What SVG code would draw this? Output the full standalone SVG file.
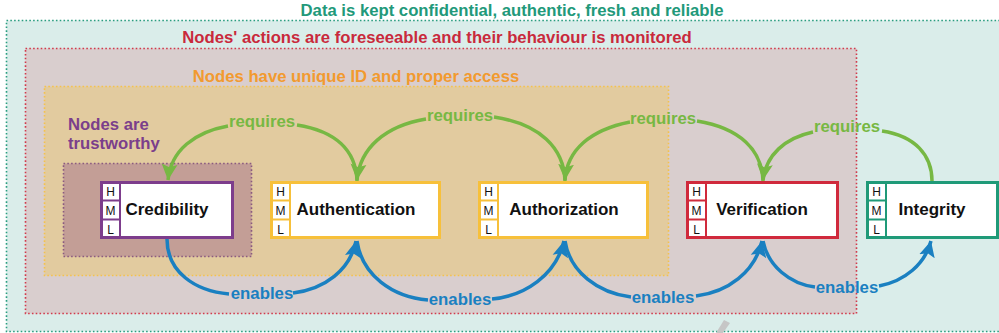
<svg xmlns="http://www.w3.org/2000/svg" width="999" height="333" viewBox="0 0 999 333">
<style>
text{font-family:"Liberation Sans",Arial,sans-serif;font-weight:bold}
.hml{font-weight:normal;font-size:12px;fill:#111;text-anchor:middle}
.nt{font-size:17px;fill:#111;text-anchor:middle}
.box{fill:#fff;stroke-width:3}
.cell{stroke-width:2;fill:none}
.req{fill:none;stroke:#77b843;stroke-width:3.5}
.ena{fill:none;stroke:#1a80c1;stroke-width:3.5}
.rl{font-size:16.8px;fill:#77b843;text-anchor:middle}
.el{font-size:16.8px;fill:#1a80c1;text-anchor:middle}
.reg{stroke-width:1.6;stroke-dasharray:1.6 2.2}
.h{font-size:16.7px}
</style>
<defs>
<marker id="ag" markerUnits="userSpaceOnUse" markerWidth="18" markerHeight="18" refX="15" refY="7.5" orient="auto" viewBox="0 0 17 15">
<path d="M0,0 L15,7.5 L0,15 L3,7.5 z" fill="#77b843"/>
</marker>
<marker id="ab" markerUnits="userSpaceOnUse" markerWidth="18" markerHeight="18" refX="15" refY="7.5" orient="auto" viewBox="0 0 17 15">
<path d="M0,0 L15,7.5 L0,15 L3,7.5 z" fill="#1a80c1"/>
</marker>
</defs>
<rect width="999" height="333" fill="#fff"/>
<g id="regions">
<rect class="reg" x="6.5" y="20.5" width="1000" height="311" fill="#daedea" stroke="#2a9d80"/>
<rect class="reg" x="25.5" y="48.5" width="831" height="265" fill="#d9cece" stroke="#d13b4c"/>
<rect class="reg" x="44.5" y="86.5" width="624" height="189" fill="#e2cb9f" stroke="#f5c24c"/>
<rect class="reg" x="63.5" y="163.5" width="188" height="93" fill="#c39e96" stroke="#8a5a80"/>
<polygon points="716,333 724,320 730,323 723,333" fill="#c6c6c6"/>
<text class="h" x="512" y="16" text-anchor="middle" fill="#22997a">Data is kept confidential, authentic, fresh and reliable</text>
<text class="h" x="437" y="43" text-anchor="middle" fill="#c92a3c">Nodes' actions are foreseeable and their behaviour is monitored</text>
<text class="h" x="356" y="82" text-anchor="middle" fill="#f29a2f">Nodes have unique ID and proper access</text>
<text class="h" x="68" y="130" fill="#7b3e8b">Nodes are</text>
<text class="h" x="68" y="149" fill="#7b3e8b">trustworthy</text>
</g>
<g id="connectors">
<path class="req" d="M357,181 C356,150 335,131 297,125"/>
<path class="req" d="M228,126 C195,132 171,150 168,180" marker-end="url(#ag)"/>
<text class="rl" x="262" y="127">requires</text>
<path class="req" d="M565,181 C564,148 540,124 494,117"/>
<path class="req" d="M426,119 C385,126 360,148 357,180" marker-end="url(#ag)"/>
<text class="rl" x="460" y="121">requires</text>
<path class="req" d="M763,181 C762,150 740,128 697,121"/>
<path class="req" d="M630,122 C590,130 567,150 565,180" marker-end="url(#ag)"/>
<text class="rl" x="663" y="124">requires</text>
<path class="req" d="M932,181 C932,155 915,136 882,131"/>
<path class="req" d="M813,132 C785,138 766,155 763,180" marker-end="url(#ag)"/>
<text class="rl" x="847" y="132">requires</text>
<path class="ena" d="M167,239 C167,272 195,291 229,294"/>
<path class="ena" d="M293,293 C325,289 350,270 356,241" marker-end="url(#ab)"/>
<text class="el" x="262" y="299">enables</text>
<path class="ena" d="M357,241 C362,275 392,297 428,300"/>
<path class="ena" d="M492,299 C525,296 556,275 564,241" marker-end="url(#ab)"/>
<text class="el" x="460" y="305">enables</text>
<path class="ena" d="M565,241 C570,272 598,293 631,297"/>
<path class="ena" d="M696,296 C728,292 755,272 762,241" marker-end="url(#ab)"/>
<text class="el" x="663" y="303">enables</text>
<path class="ena" d="M763,241 C768,266 790,284 815,287"/>
<path class="ena" d="M879,286 C905,281 925,264 931,241" marker-end="url(#ab)"/>
<text class="el" x="847" y="293">enables</text>
</g>
<g id="credibility" stroke="#7d3d8c">
<rect class="box" x="101.5" y="182.5" width="131" height="55"/>
<path class="cell" d="M120,182 V238 M101,200.5 H120 M101,219.5 H120"/>
<g stroke="none"><text class="hml" x="110.5" y="196">H</text><text class="hml" x="110.5" y="215">M</text><text class="hml" x="110.5" y="234">L</text>
<text class="nt" x="167" y="215">Credibility</text></g>
</g>
<g id="authentication" stroke="#f7c03a">
<rect class="box" x="271.5" y="182.5" width="168" height="55"/>
<path class="cell" d="M290,182 V238 M271,200.5 H290 M271,219.5 H290"/>
<g stroke="none"><text class="hml" x="280.5" y="196">H</text><text class="hml" x="280.5" y="215">M</text><text class="hml" x="280.5" y="234">L</text>
<text class="nt" x="356" y="215">Authentication</text></g>
</g>
<g id="authorization" stroke="#f7c03a">
<rect class="box" x="479.5" y="182.5" width="168" height="55"/>
<path class="cell" d="M498,182 V238 M479,200.5 H498 M479,219.5 H498"/>
<g stroke="none"><text class="hml" x="488.5" y="196">H</text><text class="hml" x="488.5" y="215">M</text><text class="hml" x="488.5" y="234">L</text>
<text class="nt" x="564" y="215">Authorization</text></g>
</g>
<g id="verification" stroke="#d02a3c">
<rect class="box" x="687.5" y="182.5" width="150" height="55"/>
<path class="cell" d="M706,182 V238 M687,200.5 H706 M687,219.5 H706"/>
<g stroke="none"><text class="hml" x="696.5" y="196">H</text><text class="hml" x="696.5" y="215">M</text><text class="hml" x="696.5" y="234">L</text>
<text class="nt" x="762" y="215">Verification</text></g>
</g>
<g id="integrity" stroke="#1f9a78">
<rect class="box" x="867.5" y="182.5" width="130" height="55"/>
<path class="cell" d="M886,182 V238 M867,200.5 H886 M867,219.5 H886"/>
<g stroke="none"><text class="hml" x="876.5" y="196">H</text><text class="hml" x="876.5" y="215">M</text><text class="hml" x="876.5" y="234">L</text>
<text class="nt" x="932" y="215">Integrity</text></g>
</g>
</svg>
